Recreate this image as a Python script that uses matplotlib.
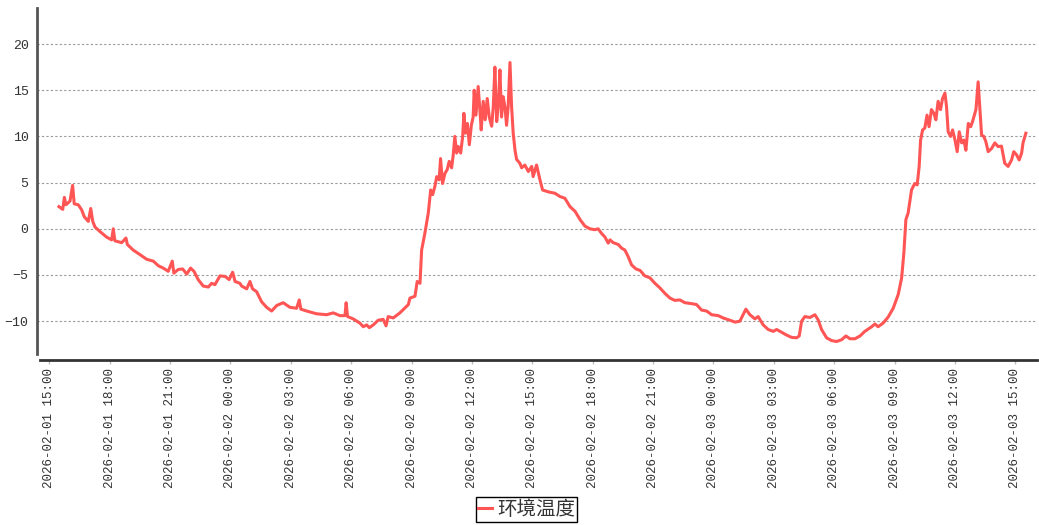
import numpy as np
import pandas as pd
import matplotlib
matplotlib.use('Agg')
import matplotlib.pyplot as plt
import matplotlib.dates as mdates


# ---------------------------------------------- DATE ---------------------------------------------------------------

start = pd.Timestamp('2026-02-01 15:00')
series_name = '环境温度'

# ore de la start (2026-02-01 15:00)
hours = [
    0.48, 0.67, 0.75, 0.83, 1.03, 1.16, 1.24, 1.44, 1.61, 1.74,
    1.94, 2.06, 2.16, 2.27, 2.52, 2.85, 3.10, 3.18, 3.26, 3.60,
    3.81, 3.88, 4.17, 4.51, 4.84, 5.17, 5.42, 5.66, 5.91, 6.11,
    6.19, 6.41, 6.63, 6.83, 7.02, 7.19, 7.40, 7.65, 7.90, 8.07,
    8.23, 8.48, 8.73, 8.94, 9.11, 9.23, 9.47, 9.56, 9.81, 9.97,
    10.10, 10.30, 10.55, 10.80, 11.05, 11.30, 11.62, 11.96, 12.29, 12.42,
    12.50, 12.79, 13.28, 13.78, 14.11, 14.44, 14.69, 14.75, 14.82, 15.10,
    15.43, 15.60, 15.77, 15.90, 16.10, 16.34, 16.59, 16.73, 16.84, 17.09,
    17.42, 17.84, 17.92, 18.17, 18.28, 18.42, 18.50, 18.66, 18.83, 18.95,
    19.05, 19.16, 19.25, 19.37, 19.44, 19.54, 19.66, 19.77, 19.87, 19.99,
    20.07, 20.15, 20.24, 20.32, 20.44, 20.54, 20.60, 20.67, 20.77, 20.87,
    20.97, 21.06, 21.11, 21.20, 21.31, 21.40, 21.46, 21.56, 21.66, 21.76,
    21.86, 21.98, 22.06, 22.14, 22.23, 22.33, 22.39, 22.47, 22.55, 22.64,
    22.72, 22.80, 22.89, 22.97, 23.05, 23.14, 23.22, 23.38, 23.47, 23.63,
    23.80, 23.97, 24.04, 24.21, 24.38, 24.51, 24.79, 25.12, 25.37, 25.62,
    25.87, 26.12, 26.37, 26.61, 26.86, 27.11, 27.27, 27.44, 27.61, 27.77,
    27.86, 28.02, 28.27, 28.44, 28.60, 28.76, 28.93, 29.15, 29.35, 29.59,
    29.84, 30.09, 30.34, 30.59, 30.84, 31.08, 31.33, 31.58, 31.91, 32.16,
    32.41, 32.66, 32.91, 33.24, 33.48, 33.82, 34.07, 34.31, 34.61, 34.81,
    35.06, 35.22, 35.47, 35.72, 35.97, 36.14, 36.39, 36.63, 36.88, 37.13,
    37.26, 37.38, 37.54, 37.79, 38.04, 38.20, 38.37, 38.62, 38.87, 39.12,
    39.37, 39.58, 39.78, 40.03, 40.28, 40.52, 40.86, 41.02, 41.18, 41.43,
    41.68, 41.93, 42.18, 42.35, 42.46, 42.56, 42.67, 42.84, 43.00, 43.12,
    43.22, 43.29, 43.39, 43.50, 43.61, 43.71, 43.83, 43.95, 44.05, 44.16,
    44.28, 44.38, 44.50, 44.58, 44.66, 44.78, 44.88, 45.00, 45.11, 45.21,
    45.33, 45.44, 45.54, 45.66, 45.78, 45.87, 46.04, 46.15, 46.23, 46.32,
    46.43, 46.53, 46.65, 46.82, 46.98, 47.14, 47.31, 47.47, 47.64, 47.81,
    47.92, 48.06, 48.19, 48.31, 48.38, 48.52,
]

temp = [
    2.4, 2.1, 3.4, 2.6, 3.0, 4.7, 2.7, 2.6, 2.05, 1.3,
    0.8, 2.2, 0.8, 0.2, -0.3, -0.9, -1.2, 0.0, -1.3, -1.5,
    -1.0, -1.7, -2.3, -2.8, -3.3, -3.5, -4.0, -4.25, -4.6, -3.5,
    -4.8, -4.4, -4.35, -4.9, -4.25, -4.6, -5.5, -6.2, -6.3, -5.9,
    -6.05, -5.1, -5.15, -5.5, -4.7, -5.7, -5.9, -6.2, -6.5, -5.7,
    -6.5, -6.8, -7.9, -8.5, -8.9, -8.3, -8.0, -8.5, -8.6, -7.7,
    -8.7, -8.9, -9.2, -9.3, -9.1, -9.4, -9.4, -8.0, -9.5, -9.75,
    -10.2, -10.6, -10.4, -10.7, -10.4, -9.9, -9.8, -10.5, -9.5, -9.65,
    -9.1, -8.2, -7.5, -7.3, -5.7, -5.9, -2.3, -0.5, 1.7, 4.2,
    3.7, 4.6, 5.65, 5.3, 7.6, 4.9, 6.0, 6.4, 7.3, 6.6,
    8.0, 10.0, 8.2, 8.9, 8.2, 10.0, 12.5, 10.35, 11.4, 9.1,
    11.2, 12.1, 15.0, 12.3, 15.4, 12.7, 10.7, 13.8, 11.8, 14.1,
    12.1, 11.1, 13.2, 17.5, 11.6, 13.9, 17.2, 12.1, 14.3, 13.2,
    11.2, 13.2, 18.0, 13.2, 10.35, 8.5, 7.5, 7.1, 6.6, 6.9,
    6.2, 6.75, 5.65, 6.9, 5.3, 4.2, 4.0, 3.85, 3.5, 3.3,
    2.4, 1.9, 1.0, 0.3, 0.0, -0.1, 0.0, -0.5, -0.9, -1.55,
    -1.2, -1.5, -1.7, -2.1, -2.3, -3.0, -3.9, -4.35, -4.5, -5.1,
    -5.3, -5.9, -6.4, -7.0, -7.5, -7.75, -7.7, -8.0, -8.1, -8.2,
    -8.8, -8.9, -9.3, -9.4, -9.65, -9.9, -10.1, -10.0, -8.7, -9.3,
    -9.75, -9.5, -10.4, -10.9, -11.1, -10.9, -11.2, -11.5, -11.75, -11.8,
    -11.6, -10.0, -9.5, -9.6, -9.3, -9.85, -10.9, -11.8, -12.1, -12.2,
    -12.0, -11.6, -11.9, -11.9, -11.6, -11.1, -10.6, -10.3, -10.6, -10.2,
    -9.55, -8.6, -7.1, -5.3, -2.6, 1.0, 1.7, 4.2, 4.9, 4.75,
    6.75, 9.6, 10.7, 10.9, 12.3, 11.05, 12.9, 12.5, 11.8, 13.8,
    12.9, 14.1, 14.7, 13.2, 10.5, 10.0, 10.7, 9.6, 8.35, 10.5,
    9.3, 9.6, 8.5, 11.4, 11.05, 11.6, 12.9, 15.9, 13.2, 10.15,
    10.0, 9.45, 8.35, 8.7, 9.3, 8.9, 8.95, 7.1, 6.75, 7.45,
    8.35, 8.0, 7.45, 8.2, 9.3, 10.35,
]

y_ticks = [-10, -5, 0, 5, 10, 15, 20]

# ---------------------------------------------- GRAFIC -------------------------------------------------------------


def make_graph():
    assert len(hours) == len(temp), 'hours si temp au lungimi diferite'

    times = start + pd.to_timedelta(hours, unit='h')

    fig = plt.figure(figsize=(10.39, 5.25), dpi=100)
    ax = fig.add_axes([0.0356, 0.3143, 0.9624, 0.6705])

    # linia de temperatura
    line, = ax.plot(times, temp, color='#ff5555', linewidth=2.2, label=series_name, zorder=3)

    # limitele graficului
    ax.set_xlim(start - pd.Timedelta(hours=0.61), start + pd.Timedelta(hours=49.07))
    ax.set_ylim(-14.2, 23.9)

    # grid orizontal punctat
    ax.set_yticks(y_ticks)
    ax.yaxis.grid(True, color='#999999', linestyle=(0, (2, 2)), linewidth=0.8)
    ax.set_axisbelow(True)

    # axele
    for s in ['top', 'right']:
        ax.spines[s].set_visible(False)
    ax.spines['left'].set_color('#555555')
    ax.spines['left'].set_linewidth(2)
    ax.spines['left'].set_bounds(-13.6, 23.9)
    ax.spines['bottom'].set_color('#333333')
    ax.spines['bottom'].set_linewidth(2)
    ax.spines['bottom'].set_bounds(mdates.date2num(start - pd.Timedelta(hours=0.46)),
                                   mdates.date2num(start + pd.Timedelta(hours=49.07)))

    # etichetele axei x la fiecare 3 ore
    ax.xaxis.set_major_locator(mdates.HourLocator(byhour=range(0, 24, 3)))
    ax.xaxis.set_major_formatter(mdates.DateFormatter('%Y-%m-%d %H:%M'))
    ax.tick_params(axis='x', length=3, width=1, color='#bbbbbb', pad=3,
                   labelsize=9, labelcolor='#333333', labelrotation=90)
    ax.tick_params(axis='y', length=0, pad=6, labelsize=9.5, labelcolor='#333333')
    for lbl in ax.get_xticklabels() + ax.get_yticklabels():
        lbl.set_fontfamily('Liberation Mono')
    for lbl in ax.get_xticklabels():
        lbl.set_ha('center')
        lbl.set_va('top')

    # legenda
    leg = fig.legend(handles=[line], loc='center', bbox_to_anchor=(0.507, 0.0295),
                     prop={'family': ['Noto Sans CJK SC', 'DejaVu Sans'], 'size': 14},
                     handlelength=0.7, handletextpad=0.3, borderpad=0.1, borderaxespad=0,
                     fancybox=False, framealpha=1, edgecolor='#000000')
    leg.get_frame().set_linewidth(1)
    for t in leg.get_texts():
        t.set_color('#333333')

    fig.savefig('out.png', dpi=100)


def main():
    make_graph()


if __name__ == '__main__':
    main()
